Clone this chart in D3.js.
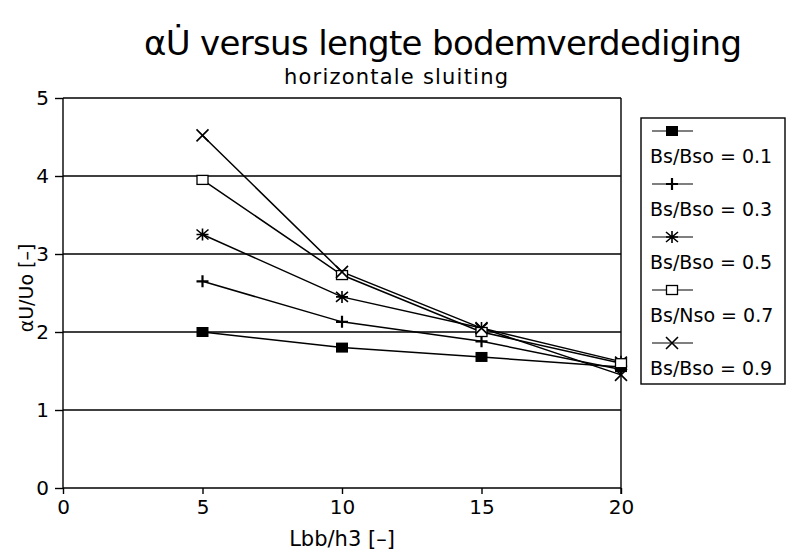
<!DOCTYPE html>
<html>
<head>
<meta charset="utf-8">
<script src="https://cdn.jsdelivr.net/npm/d3@7"></script>
<style>
  html, body { margin: 0; padding: 0; background: #fff; }
  svg text { font-family: "DejaVu Sans", sans-serif; fill: #000; }
</style>
</head>
<body>
<svg id="chart" width="791" height="552"></svg>
<script>
// Relative length of the bottom protection (Lbb/h3)
const lengths = [5, 10, 15, 20];

// Series: Bs/Bso ratio, values of αU/Uo
const seriesLabels = ["Bs/Bso = 0.1", "Bs/Bso = 0.3", "Bs/Bso = 0.5", "Bs/Nso = 0.7", "Bs/Bso = 0.9"];
const s01 = [2.00, 1.80, 1.68, 1.55];
const s03 = [2.65, 2.13, 1.88, 1.52];
const s05 = [3.25, 2.45, 2.05, 1.62];
const s07 = [3.95, 2.73, 2.00, 1.60];
const s09 = [4.52, 2.77, 2.05, 1.45];
const markers = ["filledSquare", "plus", "asterisk", "openSquare", "cross"];

const xTicks = [0, 5, 10, 15, 20];
const yTicks = [0, 1, 2, 3, 4, 5];

const titleText = "\u03b1U\u0307 versus lengte bodemverdediging";
const subtitleText = "horizontale sluiting";
const xLabel = "Lbb/h3 [\u2013]";
const yLabel = "\u03b1U/Uo [\u2013]";

const svg = d3.select("#chart");
const plot = { left: 63, right: 621, top: 98, bottom: 488 };

const x = d3.scaleLinear().domain([0, 20]).range([plot.left, plot.right]);
const y = d3.scaleLinear().domain([0, 5]).range([plot.bottom, plot.top]);

// Titles
svg.append("text").attr("x", 443).attr("y", 55)
  .attr("text-anchor", "middle").attr("font-size", 34)
  .attr("textLength", 598).attr("lengthAdjust", "spacing")
  .text(titleText);
svg.append("text").attr("x", 396).attr("y", 84)
  .attr("text-anchor", "middle").attr("font-size", 21)
  .attr("textLength", 224).attr("lengthAdjust", "spacing")
  .text(subtitleText);

// Horizontal grid lines
svg.append("g").selectAll("line").data(yTicks.filter(d => d > 0)).join("line")
  .attr("x1", plot.left).attr("x2", plot.right)
  .attr("y1", d => y(d)).attr("y2", d => y(d))
  .attr("stroke", "#000").attr("stroke-width", 1.4);

// Axes
const xAxis = d3.axisBottom(x).tickValues(xTicks).tickFormat(d3.format("d")).tickSize(6).tickPadding(6);
const yAxis = d3.axisLeft(y).tickValues(yTicks).tickFormat(d3.format("d")).tickSize(8).tickPadding(6);

const gx = svg.append("g").attr("transform", `translate(0,${plot.bottom})`).call(xAxis);
const gy = svg.append("g").attr("transform", `translate(${plot.left},0)`).call(yAxis);
[gx, gy].forEach(g => {
  g.select(".domain").attr("stroke", "#000").attr("stroke-width", 1.4);
  g.selectAll(".tick line").attr("stroke", "#000").attr("stroke-width", 1.4);
  g.selectAll(".tick text").attr("font-family", "DejaVu Sans, sans-serif")
    .attr("font-size", 20).attr("fill", "#000");
});
gx.select(".domain").attr("d", `M${plot.left},0H${plot.right}`);
gy.select(".domain").attr("d", `M0,${plot.bottom}V${plot.top}`);

// Right edge of the plotting area
svg.append("line").attr("x1", plot.right).attr("x2", plot.right)
  .attr("y1", plot.top).attr("y2", plot.bottom + 6)
  .attr("stroke", "#000").attr("stroke-width", 1.4);

// Axis titles
svg.append("text").attr("x", (plot.left + plot.right) / 2).attr("y", 546)
  .attr("text-anchor", "middle").attr("font-size", 21).text(xLabel);
svg.append("text").attr("transform", "translate(33,288) rotate(-90)")
  .attr("text-anchor", "middle").attr("font-size", 19).text(yLabel);

// Marker shapes
function drawMarker(g, type, cx, cy) {
  const s = 6;
  if (type === "filledSquare") {
    g.append("rect").attr("x", cx - s).attr("y", cy - 5).attr("width", 2 * s).attr("height", 10)
      .attr("fill", "#000");
  } else if (type === "plus") {
    g.append("path").attr("d", `M${cx - s},${cy}H${cx + s}M${cx},${cy - s}V${cy + s}`)
      .attr("stroke", "#000").attr("stroke-width", 2.2).attr("fill", "none");
  } else if (type === "asterisk") {
    g.append("path").attr("d",
      `M${cx - s},${cy - 5}L${cx + s},${cy + 5}M${cx - s},${cy + 5}L${cx + s},${cy - 5}M${cx},${cy - s}V${cy + s}M${cx - s},${cy}H${cx + s}`)
      .attr("stroke", "#000").attr("stroke-width", 1.6).attr("fill", "none");
  } else if (type === "openSquare") {
    g.append("rect").attr("x", cx - 5.5).attr("y", cy - 4.5).attr("width", 11).attr("height", 9)
      .attr("fill", "#fff").attr("stroke", "#000").attr("stroke-width", 1.3);
  } else if (type === "cross") {
    g.append("path").attr("d", `M${cx - s},${cy - s}L${cx + s},${cy + s}M${cx - s},${cy + s}L${cx + s},${cy - s}`)
      .attr("stroke", "#000").attr("stroke-width", 1.6).attr("fill", "none");
  }
}

// Series lines and markers
const allSeries = [s01, s03, s05, s07, s09];
const line = d3.line().x((d, i) => x(lengths[i])).y(d => y(d));
const gSeries = svg.append("g");
allSeries.forEach((vals, k) => {
  gSeries.append("path").datum(vals).attr("d", line)
    .attr("fill", "none").attr("stroke", "#000").attr("stroke-width", 1.5);
});
allSeries.forEach((vals, k) => {
  const gm = gSeries.append("g");
  vals.forEach((v, i) => drawMarker(gm, markers[k], x(lengths[i]), y(v)));
});

// Legend
const legend = svg.append("g");
legend.append("rect").attr("x", 641).attr("y", 118).attr("width", 144).attr("height", 266)
  .attr("fill", "#fff").attr("stroke", "#000").attr("stroke-width", 1.4);
seriesLabels.forEach((lab, k) => {
  const ly = 131 + k * 53;
  legend.append("line").attr("x1", 652).attr("x2", 693).attr("y1", ly).attr("y2", ly)
    .attr("stroke", "#000").attr("stroke-width", 1.2);
  drawMarker(legend, markers[k], 672, ly);
  legend.append("text").attr("x", 650).attr("y", ly + 32)
    .attr("font-size", 19).text(lab);
});
</script>
</body>
</html>
